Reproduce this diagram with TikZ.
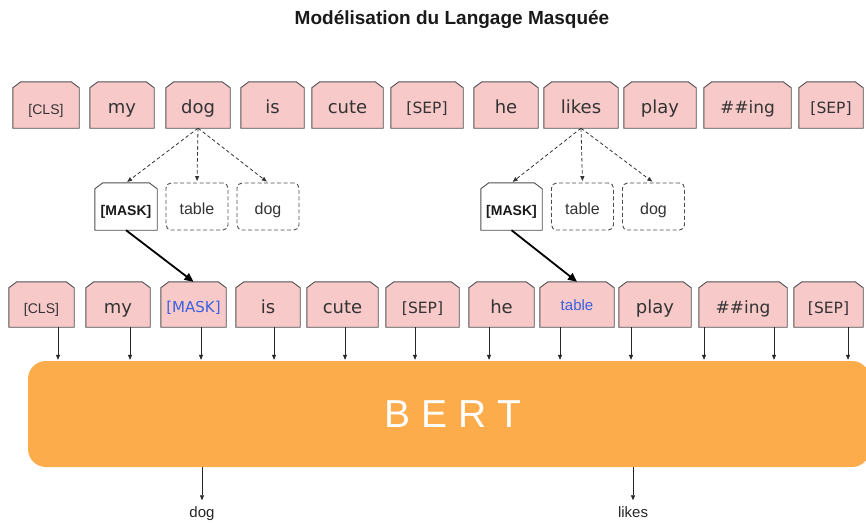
\documentclass[tikz,border=0pt]{standalone}
\usepackage{fontspec}
\setmainfont{Liberation Sans}
\newfontfamily\dvs{DejaVu Sans}
\usetikzlibrary{arrows.meta,backgrounds}
\definecolor{tokpink}{HTML}{F8C9C9}
\definecolor{tokedge}{HTML}{505050}
\definecolor{bertorange}{HTML}{FDAC4C}
\definecolor{maskblue}{HTML}{3A60E0}
\definecolor{txtgray}{HTML}{333333}
\tikzset{
  tokn/.style={inner sep=0pt, text=txtgray, text height=17pt, text depth=0pt},
  tokline/.style={draw=tokedge, line width=0.9pt},
  vw/.style={font=\dvs\fontsize{18}{20}\selectfont},
  vsep/.style={font=\dvs\fontsize{15.5}{18}\selectfont},
  ving/.style={font=\dvs\fontsize{17}{19}\selectfont},
  acls/.style={font=\fontsize{14}{16}\selectfont, text height=18pt},
  maskbold/.style={font=\bfseries\fontsize{14}{16}\selectfont, text=black!90},
  dashbox/.style={draw=black!70, line width=0.9pt, dash pattern=on 4pt off 2.5pt, rounded corners=5pt, inner sep=0pt, minimum width=62pt, minimum height=47pt, text=txtgray, font=\fontsize{16}{18}\selectfont, text height=15pt, text depth=0pt},
  dasharrow/.style={draw=black!80, line width=0.8pt, dash pattern=on 3.5pt off 2.5pt, -{Triangle[length=5pt,width=4pt]}, shorten >=1.5pt},
  boldarrow/.style={draw=black, line width=1.8pt, -{Triangle[length=9pt,width=8pt]}},
  rowarrow/.style={draw=black!85, line width=0.7pt, -{Triangle[length=5pt,width=4pt]}, shorten >=1pt},
  outlabel/.style={inner sep=0pt, font=\fontsize{15}{17}\selectfont, text=black!85, text height=11pt, text depth=4pt},
}
% #1 name, #2 x1, #3 x2, #4 y1, #5 y2, #6 fill, #7 node options, #8 text
\newcommand\tok[8]{%
  \node[tokn,minimum width={(#3-#2)*1pt},minimum height={(#5-#4)*1pt},#7] (#1) at ({(#2+#3)/2},{(#4+#5)/2}) {#8};
  \begin{pgfonlayer}{background}
    \draw[tokline,fill=#6] (#1.south west) -- ([yshift=-6pt]#1.north west) -- ([xshift=8pt]#1.north west) -- ([xshift=-8pt]#1.north east) -- ([yshift=-6pt]#1.north east) -- (#1.south east) -- cycle;
  \end{pgfonlayer}}
\begin{document}
\begin{tikzpicture}[x=1pt,y=-1pt]
\useasboundingbox (0,0) rectangle (866,523);
% title
\node[font=\bfseries\fontsize{19}{22}\selectfont, text=black!90] (title) at (452,20) {Modélisation du Langage Masquée};
% top row
\tok{t1}{13}{79}{82}{128}{tokpink}{acls}{[CLS]}
\tok{t2}{90}{154}{82}{128}{tokpink}{vw}{my}
\tok{t3}{166}{230}{82}{128}{tokpink}{vw}{dog}
\tok{t4}{241}{304}{82}{128}{tokpink}{vw}{is}
\tok{t5}{312}{383}{82}{128}{tokpink}{vw}{cute}
\tok{t6}{391}{463}{82}{128}{tokpink}{vsep}{[SEP]}
\tok{t7}{474}{538}{82}{128}{tokpink}{vw}{he}
\tok{t8}{544}{618}{82}{128}{tokpink}{vw}{likes}
\tok{t9}{624}{696}{82}{128}{tokpink}{vw}{play}
\tok{t10}{704}{791}{82}{128}{tokpink}{ving}{\#\#ing}
\tok{t11}{799}{863}{82}{128}{tokpink}{vsep}{[SEP]}
% middle candidates
\tok{m1}{95}{157}{183}{230}{white}{maskbold}{[MASK]}
\node[dashbox] (m2) at (197,206.5) {table};
\node[dashbox] (m3) at (268,206.5) {dog};
\tok{m4}{481}{542}{183}{230}{white}{maskbold}{[MASK]}
\node[dashbox] (m5) at (582.5,206.5) {table};
\node[dashbox] (m6) at (653.5,206.5) {dog};
% second row
\tok{b1}{9}{74}{282}{327}{tokpink}{acls}{[CLS]}
\tok{b2}{86}{150}{282}{327}{tokpink}{vw}{my}
\tok{b3}{161}{226}{282}{327}{tokpink}{font=\dvs\fontsize{15}{17}\selectfont, text=maskblue, text height=15pt}{[MASK]}
\tok{b4}{236}{300}{282}{327}{tokpink}{vw}{is}
\tok{b5}{307}{378}{282}{327}{tokpink}{vw}{cute}
\tok{b6}{386}{459}{282}{327}{tokpink}{vsep}{[SEP]}
\tok{b7}{469}{534}{282}{327}{tokpink}{vw}{he}
\tok{b8}{540}{614}{282}{327}{tokpink}{font=\fontsize{15}{17}\selectfont, text=maskblue, text height=11pt}{table}
\tok{b9}{619}{691}{282}{327}{tokpink}{vw}{play}
\tok{b10}{699}{787}{282}{327}{tokpink}{ving}{\#\#ing}
\tok{b11}{794}{863}{282}{327}{tokpink}{vsep}{[SEP]}
% BERT
\node[fill=bertorange, rounded corners=18pt, inner sep=0pt, minimum width=842pt, minimum height=106pt] (bert) at (449,414) {};
\node[text=white, font=\fontsize{39}{44}\selectfont] (bertlabel) at (453,414) {B E R T};
% dashed arrows
\draw[dasharrow] (t3.south) -- (m1.north);
\draw[dasharrow] (t3.south) -- (m2.north);
\draw[dasharrow] (t3.south) -- (m3.north);
\draw[dasharrow] (t8.south) -- (m4.north);
\draw[dasharrow] (t8.south) -- (m5.north);
\draw[dasharrow] (t8.south) -- (m6.north);
% bold arrows
\draw[boldarrow] (m1.south) -- (b3.north);
\draw[boldarrow] (m4.south) -- (b8.north);
% arrows into BERT
\coordinate (x1) at (58,0);
\coordinate (x2) at (130,0);
\coordinate (x3) at (201,0);
\coordinate (x4) at (274,0);
\coordinate (x5) at (345,0);
\coordinate (x6) at (415,0);
\coordinate (x7) at (489,0);
\coordinate (x8) at (560,0);
\coordinate (x9) at (631,0);
\coordinate (x10) at (704,0);
\coordinate (x11) at (774,0);
\coordinate (x12) at (848,0);
\draw[rowarrow] (b1.south -| x1) -- (bert.north -| x1);
\draw[rowarrow] (b2.south -| x2) -- (bert.north -| x2);
\draw[rowarrow] (b3.south -| x3) -- (bert.north -| x3);
\draw[rowarrow] (b4.south -| x4) -- (bert.north -| x4);
\draw[rowarrow] (b5.south -| x5) -- (bert.north -| x5);
\draw[rowarrow] (b6.south -| x6) -- (bert.north -| x6);
\draw[rowarrow] (b7.south -| x7) -- (bert.north -| x7);
\draw[rowarrow] (b8.south -| x8) -- (bert.north -| x8);
\draw[rowarrow] (b9.south -| x9) -- (bert.north -| x9);
\draw[rowarrow] (b10.south -| x10) -- (bert.north -| x10);
\draw[rowarrow] (b10.south -| x11) -- (bert.north -| x11);
\draw[rowarrow] (b11.south -| x12) -- (bert.north -| x12);
% outputs
\node[outlabel] (o1) at (202,514) {dog};
\node[outlabel] (o2) at (633,514) {likes};
\draw[rowarrow, shorten >=6pt] (bert.south -| o1) -- (o1.north);
\draw[rowarrow, shorten >=6pt] (bert.south -| o2) -- (o2.north);
\end{tikzpicture}
\end{document}
